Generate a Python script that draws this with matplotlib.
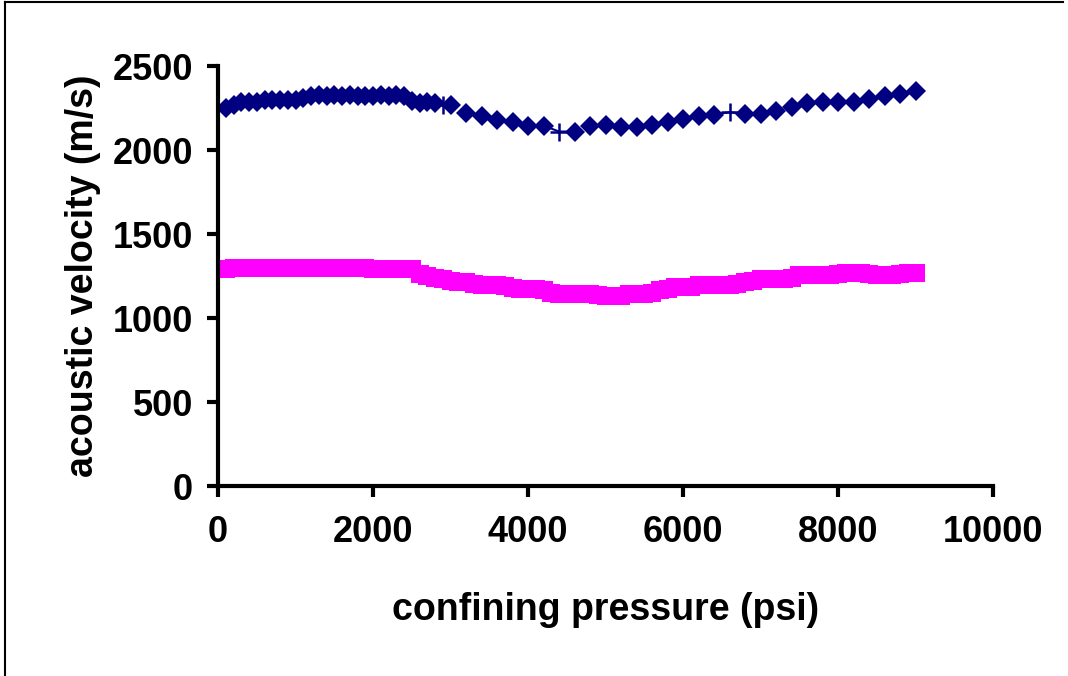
import matplotlib
matplotlib.use("Agg")
import matplotlib.pyplot as plt
from matplotlib.lines import Line2D

plt.rcParams['font.family'] = ['Liberation Sans', 'DejaVu Sans']

# blue series (diamonds), psi / m/s
blue_psi = [100, 200, 300, 400, 500, 600, 700, 800, 900, 1000, 1100, 1200, 1300,
            1400, 1500, 1600, 1700, 1800, 1900, 2000, 2100, 2200, 2300, 2400, 2500,
            2600, 2700, 2800, 3000, 3200, 3400, 3600, 3800, 4000, 4200,
            4600, 4800, 5000, 5200, 5400, 5600, 5800, 6000, 6200, 6400,
            6800, 7000, 7200, 7400, 7600, 7800, 8000, 8200, 8400, 8600, 8800, 9000]
blue_vel = [2250, 2270, 2285, 2285, 2285, 2300, 2300, 2300, 2300, 2300, 2310, 2320, 2325,
            2320, 2325, 2320, 2325, 2320, 2320, 2320, 2325, 2320, 2325, 2320, 2290,
            2280, 2285, 2280, 2265, 2220, 2200, 2180, 2165, 2145, 2145,
            2110, 2145, 2150, 2135, 2135, 2150, 2165, 2185, 2200, 2210,
            2215, 2215, 2230, 2255, 2280, 2285, 2285, 2285, 2305, 2320, 2335, 2350]

# points of the blue series drawn as crosses
cross_psi = [2900, 4400, 6600]
cross_vel = [2270, 2110, 2225]
# neighbours joined to each cross by a short line
seg_psi = [[2800, 2900, 3000], [4200, 4400, 4600], [6400, 6600, 6800]]
seg_vel = [[2280, 2270, 2265], [2145, 2110, 2110], [2210, 2225, 2215]]

# pink series (squares)
pink_psi = list(range(100, 9100, 100))
pink_vel = [1290, 1300, 1300, 1300, 1300, 1300, 1300, 1300, 1300, 1300,
            1300, 1300, 1300, 1300, 1300, 1300, 1300, 1300, 1300, 1290,
            1290, 1290, 1290, 1290, 1290, 1262, 1250, 1240, 1235, 1220,
            1215, 1215, 1200, 1198, 1198, 1198, 1190, 1180, 1170, 1170,
            1170, 1165, 1150, 1145, 1145, 1145, 1145, 1140, 1135, 1132,
            1132, 1132, 1140, 1145, 1145, 1150, 1165, 1170, 1182, 1182,
            1185, 1198, 1198, 1198, 1198, 1198, 1200, 1214, 1220, 1233,
            1233, 1233, 1233, 1240, 1253, 1253, 1253, 1253, 1253, 1260,
            1269, 1269, 1269, 1262, 1253, 1253, 1253, 1260, 1269, 1269]

navy = '#000080'
pink = '#FF00FF'

fig = plt.figure(figsize=(10.68, 6.76), dpi=100)
ax = fig.add_axes([218/1068, 1-486/676, (993-218)/1068, (486-66)/676])

ax.plot(pink_psi, pink_vel, linestyle='none', marker='s', ms=13, color=pink,
        markeredgewidth=0, clip_on=False)
for xs, ys in zip(seg_psi, seg_vel):
    ax.plot(xs, ys, color=navy, lw=1.5)
ax.plot(blue_psi, blue_vel, linestyle='none', marker='D', ms=10.5, color=navy,
        markeredgewidth=0, clip_on=False)
ax.plot(cross_psi, cross_vel, linestyle='none', marker='+', ms=13, mew=1.8, color=navy)

ax.set_xlim(0, 10000)
ax.set_ylim(0, 2500)
ax.set_xticks(range(0, 10001, 2000))
ax.set_yticks(range(0, 2501, 500))
for s in ['top', 'right']:
    ax.spines[s].set_visible(False)
for s in ['left', 'bottom']:
    ax.spines[s].set_linewidth(3)
ax.tick_params(direction='out', length=8, width=3, labelsize=26, pad=10)
ax.tick_params(axis='x', pad=13)
for lab in ax.get_xticklabels() + ax.get_yticklabels():
    lab.set_fontweight('bold')

ax.set_xlabel('confining pressure (psi)', fontsize=27, fontweight='bold', labelpad=30)
ax.set_ylabel('acoustic velocity (m/s)', fontsize=27, fontweight='bold', labelpad=8)

# outer frame (top and left edges)
fig.add_artist(Line2D([5/1068, 5/1068], [0, 1-2/676], color='black', lw=1.5))
fig.add_artist(Line2D([5/1068, 1063/1068], [1-2/676, 1-2/676], color='black', lw=1.5))

fig.savefig('out.png', dpi=100)
